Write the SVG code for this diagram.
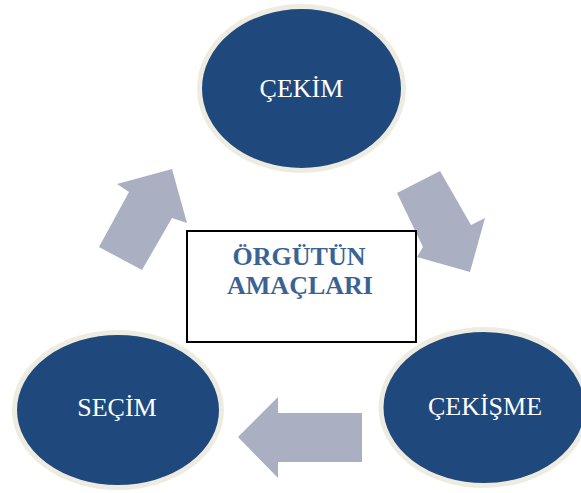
<svg xmlns="http://www.w3.org/2000/svg" width="581" height="493" viewBox="0 0 581 493">
  <style>
    .node-shape { fill: #1f497d; stroke: #eeece1; stroke-width: 5; }
    .node-label { font-family: "Liberation Serif", "Times New Roman", serif; font-size: 26px; fill: #ffffff; text-anchor: middle; }
    .flow { fill: #aab0c1; }
    .hub { fill: #ffffff; stroke: #000000; stroke-width: 2; }
    .hub-label { font-family: "Liberation Serif", "Times New Roman", serif; font-size: 26px; font-weight: bold; fill: #3a6395; text-anchor: middle; }
  </style>
  <rect width="581" height="493" fill="#ffffff"/>

  <!-- flow arrows between the three stages -->
  <g id="connectors">
    <polygon class="flow" points="99,247 129,192 117,184 172,169 187,223 172,218 142,270"/>
    <polygon class="flow" points="397,193 440,171 471,225 485,218 470,272 417,257 423,247"/>
    <polygon class="flow" points="362,413 278,413 278,397 238,437 278,478 278,462 362,462"/>
  </g>

  <g id="node-cekim">
    <ellipse class="node-shape" cx="301.5" cy="88.5" rx="102" ry="82"/>
    <text class="node-label" x="301.5" y="97">ÇEKİM</text>
  </g>

  <g id="node-cekisme">
    <ellipse class="node-shape" cx="484" cy="407.5" rx="103" ry="78"/>
    <text class="node-label" x="485" y="415">ÇEKİŞME</text>
  </g>

  <g id="node-secim">
    <ellipse class="node-shape" cx="118" cy="410" rx="103.5" ry="77.5"/>
    <text class="node-label" x="117" y="416">SEÇİM</text>
  </g>

  <g id="node-center">
    <rect class="hub" x="187" y="231" width="229" height="111"/>
    <text class="hub-label" x="299" y="265">ÖRGÜTÜN</text>
    <text class="hub-label" x="300" y="294">AMAÇLARI</text>
  </g>
</svg>
